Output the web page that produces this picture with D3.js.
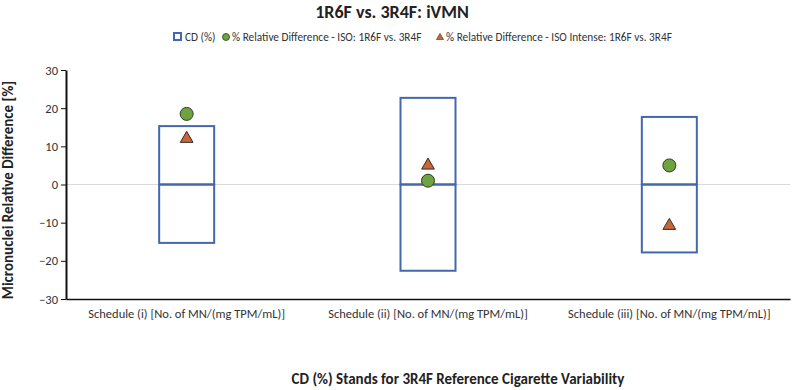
<!DOCTYPE html>
<html>
<head>
<meta charset="utf-8">
<script src="https://cdn.jsdelivr.net/npm/d3@7"></script>
<style>
  html, body { margin: 0; padding: 0; background: #fff; overflow: hidden; }
  svg { display: block; font-family: Calibri, Carlito, Lato, sans-serif; }
</style>
</head>
<body>
<div id="chart"></div>
<script>
// Chart data
const categories = [
  "Schedule (i) [No. of MN/(mg TPM/mL)]",
  "Schedule (ii) [No. of MN/(mg TPM/mL)]",
  "Schedule (iii) [No. of MN/(mg TPM/mL)]"
];
const cdUpper = [15.3, 22.7, 17.7];
const cdLower = [-15.3, -22.6, -17.8];
const isoDiff = [18.5, 1.0, 5.0];
const intenseDiff = [12.0, 5.0, -10.8];
const yTicks = [-30, -20, -10, 0, 10, 20, 30];

const width = 794, height = 390;
const margin = { top: 70, right: 4, bottom: 91, left: 66 };
const innerWidth = width - margin.left - margin.right;
const innerHeight = height - margin.top - margin.bottom;
const font = "Calibri, Carlito, Lato, sans-serif";

const svg = d3.select("#chart").append("svg")
  .attr("width", width)
  .attr("height", height);

// Title
svg.append("text")
  .attr("x", 392).attr("y", 18)
  .attr("text-anchor", "middle")
  .attr("font-size", 18).attr("font-weight", "bold")
  .attr("fill", "#222")
  .text("1R6F vs. 3R4F: iVMN");

const g = svg.append("g")
  .attr("transform", `translate(${margin.left},${margin.top})`);

const x = d3.scaleBand().domain(categories).range([0, innerWidth]);
const y = d3.scaleLinear().domain([-30, 30]).range([innerHeight, 0]);
const boxW = 55;

// zero line
g.append("line")
  .attr("x1", 0).attr("x2", innerWidth)
  .attr("y1", y(0)).attr("y2", y(0))
  .attr("stroke", "#d9d9d9").attr("stroke-width", 1);

// CD boxes (upper and lower halves)
const boxColor = "#4368AE";
categories.forEach((c, i) => {
  const cx = x(c) + x.bandwidth() / 2;
  g.append("rect")
    .attr("x", cx - boxW / 2).attr("width", boxW)
    .attr("y", y(cdUpper[i])).attr("height", y(0) - y(cdUpper[i]))
    .attr("fill", "none").attr("stroke", boxColor).attr("stroke-width", 2);
  g.append("rect")
    .attr("x", cx - boxW / 2).attr("width", boxW)
    .attr("y", y(0)).attr("height", y(cdLower[i]) - y(0))
    .attr("fill", "none").attr("stroke", boxColor).attr("stroke-width", 2);
});

// axes
const yAxis = g.append("g")
  .call(d3.axisLeft(y).tickValues(yTicks).tickSize(5).tickSizeOuter(0))
  .attr("font-family", font).attr("font-size", 12.5);
yAxis.select(".domain").attr("stroke", "#111").attr("stroke-width", 2);
yAxis.selectAll(".tick line").attr("stroke", "#111");
yAxis.selectAll(".tick text").attr("fill", "#333");

const xAxis = g.append("g")
  .attr("transform", `translate(0,${innerHeight})`)
  .call(d3.axisBottom(x).tickSize(0).tickPadding(10))
  .attr("font-family", font).attr("font-size", 12.5);
xAxis.select(".domain").attr("stroke", "#111").attr("stroke-width", 1.5);
xAxis.selectAll(".tick text").attr("fill", "#333");

// triangles (ISO Intense)
const tri = d3.symbol().type(d3.symbolTriangle).size(70);
g.selectAll(".tri").data(intenseDiff).enter()
  .append("path")
  .attr("class", "tri")
  .attr("transform", (d, i) => `translate(${x(categories[i]) + x.bandwidth() / 2},${y(d)})`)
  .attr("d", tri)
  .attr("fill", "#C4683A").attr("stroke", "#3a2a20").attr("stroke-width", 1);

// circles (ISO)
g.selectAll(".dot").data(isoDiff).enter()
  .append("circle")
  .attr("class", "dot")
  .attr("cx", (d, i) => x(categories[i]) + x.bandwidth() / 2)
  .attr("cy", d => y(d))
  .attr("r", 6.5)
  .attr("fill", "#6FA341").attr("stroke", "#2c3d1e").attr("stroke-width", 1);

// y-axis title
svg.append("text")
  .attr("transform", `translate(13,190) rotate(-90)`)
  .attr("text-anchor", "middle")
  .attr("font-size", 15).attr("font-weight", "bold")
  .attr("fill", "#222")
  .text("Micronuclei Relative Difference [%]");

// legend
const legend = svg.append("g").attr("font-size", 11.3).attr("fill", "#333");
legend.append("rect")
  .attr("x", 174).attr("y", 33).attr("width", 7).attr("height", 7)
  .attr("fill", "none").attr("stroke", boxColor).attr("stroke-width", 2);
legend.append("text").attr("x", 185).attr("y", 41).text("CD (%)");
legend.append("circle")
  .attr("cx", 226).attr("cy", 37).attr("r", 3.5)
  .attr("fill", "#6FA341").attr("stroke", "#2c3d1e").attr("stroke-width", 0.8);
legend.append("text").attr("x", 232).attr("y", 41).text("% Relative Difference - ISO: 1R6F vs. 3R4F");
legend.append("path")
  .attr("transform", "translate(440,37.5)")
  .attr("d", d3.symbol().type(d3.symbolTriangle).size(22))
  .attr("fill", "#C4683A").attr("stroke", "#3a2a20").attr("stroke-width", 0.6);
legend.append("text").attr("x", 446).attr("y", 41).text("% Relative Difference - ISO Intense: 1R6F vs. 3R4F");

// footer note
svg.append("text")
  .attr("x", 458).attr("y", 384)
  .attr("text-anchor", "middle")
  .attr("font-size", 15).attr("font-weight", "bold")
  .attr("fill", "#222")
  .text("CD (%) Stands for 3R4F Reference Cigarette Variability");
</script>
</body>
</html>
